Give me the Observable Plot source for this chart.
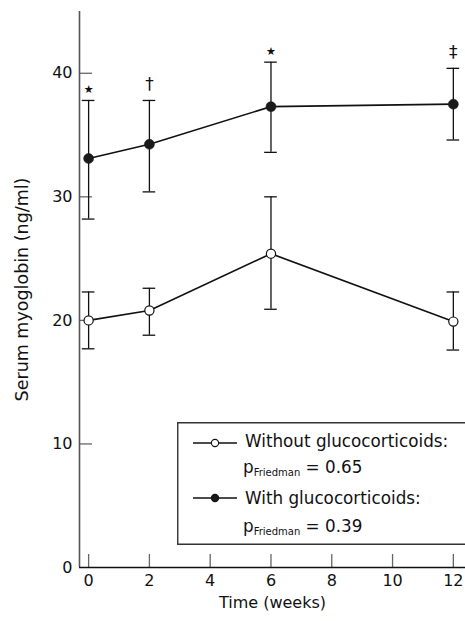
<!DOCTYPE html>
<html>
<head>
<meta charset="utf-8">
<script src="https://cdn.jsdelivr.net/npm/d3@7"></script>
<script src="https://cdn.jsdelivr.net/npm/@observablehq/plot@0.6"></script>
<style>
  html, body { margin: 0; padding: 0; background: #fff; overflow: hidden; }
  #wrap { position: relative; width: 465px; height: 621px; overflow: hidden; }
  #wrap svg { display: block; }
  #legend { position: absolute; left: 177px; top: 422px; }
</style>
</head>
<body>
<div id="wrap"></div>
<script>
// ---- data ----
const weeks = [0, 2, 6, 12];
const withMean = [33.1, 34.25, 37.3, 37.5];
const withLo   = [28.2, 30.4, 33.6, 34.6];
const withHi   = [37.8, 37.8, 40.9, 40.4];
const withoutMean = [20.0, 20.8, 25.4, 19.9];
const withoutLo   = [17.7, 18.8, 20.9, 17.6];
const withoutHi   = [22.3, 22.6, 30.0, 22.3];
const annotMarks = ["★", "†", "★", "‡"];
const xTicks = [0, 2, 4, 6, 8, 10, 12];
const yTicks = [0, 10, 20, 30, 40];
const xLabel = "Time (weeks)";
const yLabel = "Serum myoglobin (ng/ml)";
const legendLabels = ["Without glucocorticoids:", "With glucocorticoids:"];
const legendP = ["0.65", "0.39"];

// ---- build tables ----
const withData = weeks.map((w, i) => ({x: w, y: withMean[i], lo: withLo[i], hi: withHi[i], mark: annotMarks[i]}));
const withoutData = weeks.map((w, i) => ({x: w, y: withoutMean[i], lo: withoutLo[i], hi: withoutHi[i]}));
const allData = withData.concat(withoutData);
const stars = withData.filter(d => d.mark === "★");
const daggers = withData.filter(d => d.mark !== "★");

const W = 465, H = 621;
const mL = 79, mR = 0, mT = 11, mB = 54;
const xDomain = [-0.3, 12.4];
const yDomain = [0, 45];
const frameW = W - mL - mR, frameH = H - mT - mB;
const cap = 6.3 / (frameW / (xDomain[1] - xDomain[0]));
const font = "DejaVu Sans, sans-serif";

const chart = Plot.plot({
  width: W, height: H,
  marginLeft: mL, marginRight: mR, marginTop: mT, marginBottom: mB,
  style: {fontFamily: font, fontSize: "16px", color: "#111", background: "white"},
  x: {domain: xDomain},
  y: {domain: yDomain},
  marks: [
    Plot.axisX({ticks: xTicks, tickSize: 0, tickPadding: 7, label: null, fontSize: 16}),
    Plot.axisY({ticks: yTicks, tickSize: 0, tickPadding: 7, label: null, fontSize: 16}),
    // inward tick marks
    Plot.tickX(xTicks, {x: d => d, insetTop: frameH - 13, stroke: "#666", strokeWidth: 1.3}),
    Plot.tickY(yTicks.filter(d => d > 0), {y: d => d, insetRight: frameW - 13, stroke: "#666", strokeWidth: 1.3}),
    // axis lines
    Plot.ruleX([xDomain[0]], {stroke: "#555", strokeWidth: 1.6}),
    Plot.ruleY([0], {stroke: "#111", strokeWidth: 1.6}),
    // axis titles
    Plot.text([xLabel], {frameAnchor: "bottom", dy: 40, text: d => d, fontSize: 16, fill: "#111"}),
    Plot.text([yLabel], {frameAnchor: "left", textAnchor: "middle", dx: -57, rotate: -90, text: d => d, fontSize: 17.5, fill: "#111"}),
    // error bars
    Plot.ruleX(allData, {x: "x", y1: "lo", y2: "hi", stroke: "#111", strokeWidth: 1.3}),
    Plot.ruleY(allData, {y: "hi", x1: d => d.x - cap, x2: d => d.x + cap, stroke: "#111", strokeWidth: 1.3}),
    Plot.ruleY(allData, {y: "lo", x1: d => d.x - cap, x2: d => d.x + cap, stroke: "#111", strokeWidth: 1.3}),
    // lines
    Plot.line(withData, {x: "x", y: "y", stroke: "#111", strokeWidth: 1.6}),
    Plot.line(withoutData, {x: "x", y: "y", stroke: "#111", strokeWidth: 1.6}),
    // points
    Plot.dot(withData, {x: "x", y: "y", r: 5, fill: "#1a1a1a", stroke: "#1a1a1a", strokeWidth: 0.5}),
    Plot.dot(withoutData, {x: "x", y: "y", r: 4.6, fill: "white", stroke: "#111", strokeWidth: 1.2}),
    // significance annotations
    Plot.text(stars, {x: "x", y: "hi", text: "mark", dy: -11, fontSize: 11, fill: "#111"}),
    Plot.text(daggers, {x: "x", y: "hi", text: "mark", dy: -16, fontSize: 17, fill: "#111"})
  ]
});

const wrap = document.getElementById("wrap");
wrap.appendChild(chart);

// ---- legend (inside plot area, bottom right; its right edge runs past the picture) ----
const LW = 300, LH = 123;
const lg = d3.create("svg").attr("id", "legend").attr("width", LW).attr("height", LH)
  .style("font-family", font);
lg.append("path").attr("d", `M${LW + 10},0.75H0.75V${LH - 0.75}H${LW + 10}`)
  .attr("fill", "white").attr("stroke", "#333").attr("stroke-width", 1.4);

const rows = [
  {label: legendLabels[0], p: legendP[0], base1: 25, base2: 51, symY: 21, fill: "white"},
  {label: legendLabels[1], p: legendP[1], base1: 82, base2: 110, symY: 76, fill: "#1a1a1a"}
];
rows.forEach(r => {
  lg.append("line").attr("x1", 16).attr("x2", 60).attr("y1", r.symY).attr("y2", r.symY)
    .attr("stroke", "#111").attr("stroke-width", 1.4);
  lg.append("circle").attr("cx", 38).attr("cy", r.symY).attr("r", 3.6)
    .attr("fill", r.fill).attr("stroke", "#111").attr("stroke-width", 1.1);
  lg.append("text").attr("x", 68).attr("y", r.base1).attr("font-size", 16.8).attr("fill", "#111").text(r.label);
  const t = lg.append("text").attr("x", 66).attr("y", r.base2).attr("font-size", 16.8).attr("fill", "#111");
  t.append("tspan").text("p");
  t.append("tspan").attr("font-size", 10).attr("dy", 3).text("Friedman");
  t.append("tspan").attr("dy", -3).text(" = " + r.p);
});
wrap.appendChild(lg.node());
</script>
</body>
</html>
